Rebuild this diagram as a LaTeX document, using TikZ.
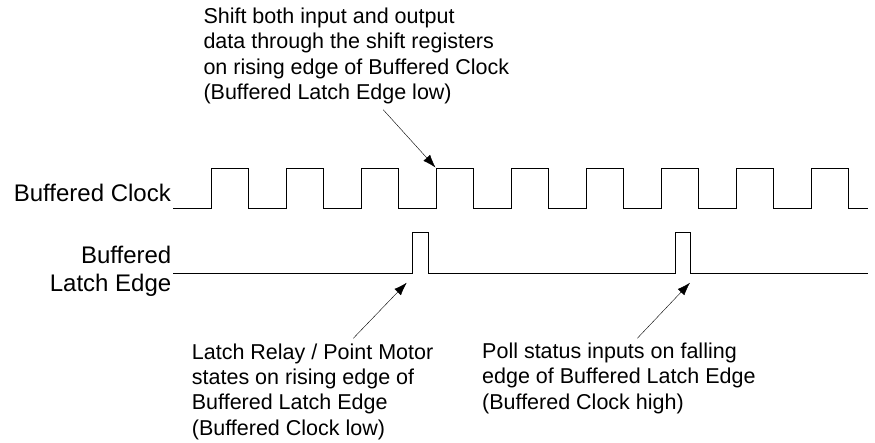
\documentclass[tikz,border=0pt]{standalone}
\usepackage{fontspec}
\setmainfont{Liberation Sans}
\usetikzlibrary{arrows.meta,positioning,calc}

\begin{document}
\begin{tikzpicture}[x=1pt,y=-1pt,>={Latex[length=13pt,width=9pt]},
  signal/.style={line width=1pt,line join=miter},
  note/.style={anchor=north west,align=left,inner sep=0pt,
    font=\fontsize{21.5}{25.4}\selectfont},
  signame/.style={inner sep=0pt,font=\fontsize{24}{28.7}\selectfont}]
  \useasboundingbox (0,0) rectangle (875,442);

  % signal names
  \node[signame,anchor=base east] (clkname) at (171,201.5) {Buffered Clock};
  \node[signame,anchor=north east,align=right] (latchname) at (171.5,245.5)
      {Buffered\\Latch Edge};

  % waveforms
  \draw[signal] (173,208) \foreach \k in {0,...,8} {
      -- (211+75*\k,208) -- ++(0,-40) -- ++(37.5,0) -- ++(0,40)} -- (868,208);
  \draw[signal] (173,273) -- (412.7,273) -- (412.7,232.7) -- (428,232.7)
      -- (428,273) -- (675,273) -- (675,232.7) -- (690.3,232.7)
      -- (690.3,273) -- (868,273);

  \coordinate (clkrise) at (435.5,167.5);
  \coordinate (latchrise) at (406.7,282.7);
  \coordinate (latchfall) at (690,282.7);

  % notes
  \node[note] (shiftnote) at (203.3,7.8) {Shift both input and output\\
    data through the shift registers\\on rising edge of Buffered Clock\\
    (Buffered Latch Edge low)};
  \node[note] (latchnote) at (191.7,343.4) {Latch Relay / Point Motor\\
    states on rising edge of\\Buffered Latch Edge\\(Buffered Clock low)};
  \node[note] (pollnote) at (482,342.6) {Poll status inputs on falling\\
    edge of Buffered Latch Edge\\(Buffered Clock high)};

  \coordinate (shiftfoot) at (383.3,109.8);
  \coordinate (latchtop) at (353.3,338.3);
  \coordinate (polltop) at (637.3,338.3);

  \draw[->,thin] (shiftfoot) -- (clkrise);
  \draw[->,thin] (latchtop) -- (latchrise);
  \draw[->,thin] (polltop) -- (latchfall);
\end{tikzpicture}
\end{document}
